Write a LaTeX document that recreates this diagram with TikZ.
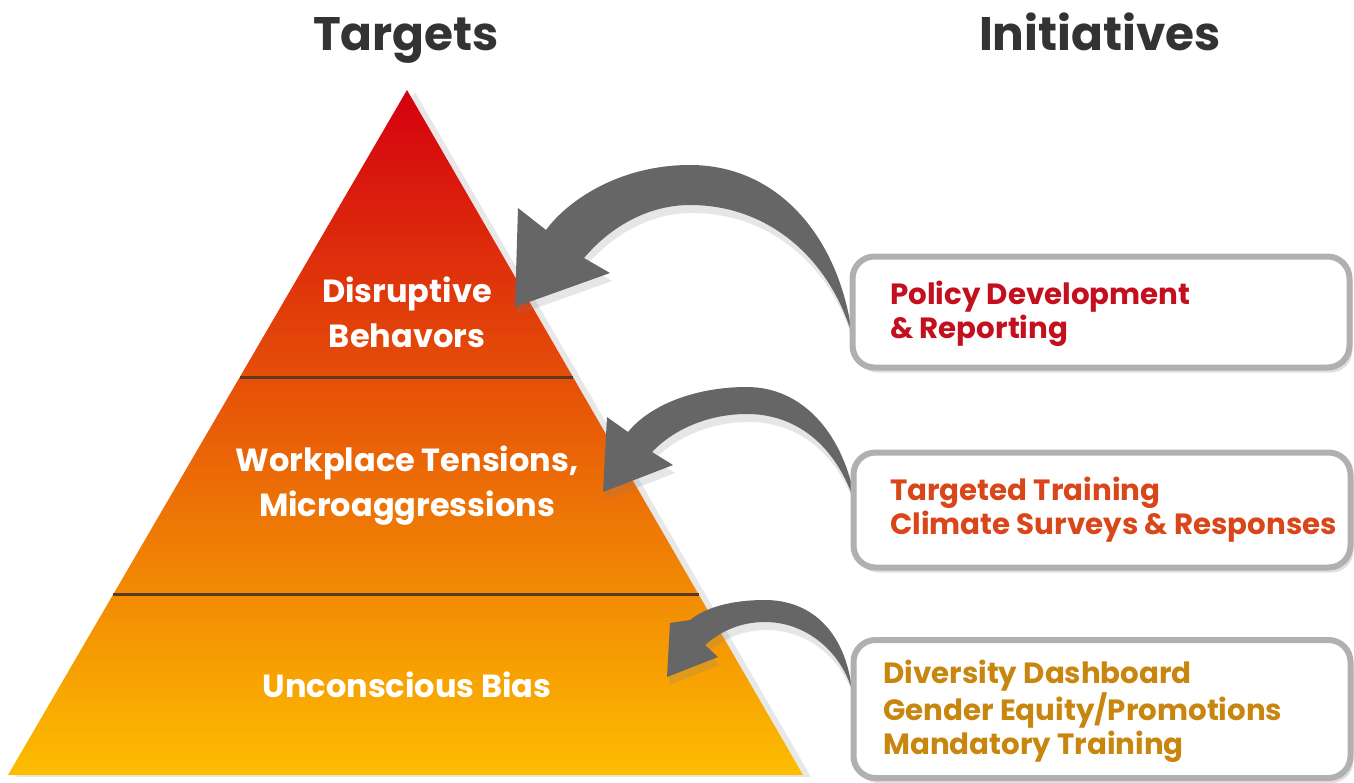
\documentclass[tikz,border=0pt]{standalone}
\usepackage{fontspec}
\setmainfont{Poppins}
\usepackage{xcolor}
\usetikzlibrary{calc, shadows}
\definecolor{titlegray}{HTML}{333333}
\definecolor{pyrred}{HTML}{D4000F}
\definecolor{pyrorange}{HTML}{E9560A}
\definecolor{pyryellow}{HTML}{FDBD00}
\definecolor{divbrown}{HTML}{5B3A1E}
\definecolor{boxgray}{HTML}{B0B0B0}
\definecolor{arrowgray}{HTML}{666666}
\definecolor{policyred}{HTML}{C30F1E}
\definecolor{trainorange}{HTML}{D9461A}
\definecolor{dashgold}{HTML}{C8860E}

\begin{document}
\begin{tikzpicture}[x=1pt,y=-1pt]
    \tikzstyle{heading}=[text=titlegray, anchor=base, font=\fontsize{47}{52}\selectfont\bfseries]
    \tikzstyle{level}=[text=white, align=center, font=\fontsize{32}{45}\selectfont\bfseries]
    \tikzstyle{initbox}=[shape=rectangle, draw=boxgray, line width=6pt, fill=white,
        rounded corners=22pt, minimum width=497pt,
        drop shadow={opacity=0.25, shadow xshift=3pt, shadow yshift=-5pt}]
    \tikzstyle{inittext}=[anchor=west, align=left, inner sep=0pt, font=\fontsize{29.3}{34}\selectfont\bfseries]
    \tikzstyle{curvearrow}=[fill=arrowgray, drop shadow={opacity=0.2, shadow xshift=2pt, shadow yshift=-8pt}]
    \tikzstyle{divider}=[divbrown, line width=3pt]

    \useasboundingbox (0,0) rectangle (1354,782);

    % headings
    \node[heading] (targets) at (406,50) {Targets};
    \node[heading] (initiatives) at (1100,50) {Initiatives};

    % pyramid
    \coordinate (apex) at (407,90);
    \coordinate (baseL) at (8,775);
    \coordinate (baseR) at (803,775);
    \shade[top color=pyrred, middle color=pyrorange, bottom color=pyryellow,
        drop shadow={opacity=0.18, shadow xshift=8pt, shadow yshift=-2pt}]
        (apex) -- (baseR) -- (baseL) -- cycle;
    \draw[divider] ($(apex)!0.419!(baseL)$) -- ($(apex)!0.419!(baseR)$);
    \draw[divider] ($(apex)!0.737!(baseL)$) -- ($(apex)!0.737!(baseR)$);

    \node[level] (disruptive) at (407,312) {Disruptive\\Behavors};
    \node[level] (tensions) at (407,486) {Workplace Tensions,\\Microaggressions};
    \node[level] (bias) at (407,685) {Unconscious Bias};

    % curved arrows
    \coordinate (tail1) at (852,335);
    \coordinate (tip1) at (515,307);
    \fill[curvearrow] (tail1) .. controls (840,240) and (780,165) .. (690,165)
        .. controls (620,165) and (568,200) .. (546,230) -- (518,208) -- (tip1)
        -- (610,273) -- (584,258) .. controls (612,225) and (650,205) .. (690,205)
        .. controls (770,205) and (830,260) .. (tail1) -- cycle;

    \coordinate (tail2) at (857,510);
    \coordinate (tip2) at (603,492);
    \fill[curvearrow] (tail2) .. controls (845,430) and (800,387) .. (747,387)
        .. controls (695,387) and (650,405) .. (628,432) -- (607,417) -- (tip2)
        -- (673,465) -- (652,452) .. controls (675,428) and (710,414) .. (747,414)
        .. controls (800,414) and (840,450) .. (tail2) -- cycle;

    \coordinate (tail3) at (852,690);
    \coordinate (tip3) at (667,677);
    \fill[curvearrow] (tail3) .. controls (845,630) and (810,600) .. (765,600)
        .. controls (730,600) and (705,608) .. (690,620) -- (670,623) -- (tip3)
        -- (718,657) -- (705,645) .. controls (722,630) and (742,622) .. (765,622)
        .. controls (805,622) and (840,650) .. (tail3) -- cycle;

    % initiative boxes
    \node[initbox, minimum height=111pt] (policy) at (1101,312) {};
    \node[initbox, minimum height=115pt] (training) at (1102,510) {};
    \node[initbox, minimum height=138pt] (diversity) at (1102,709) {};

    \node[inittext, text=policyred] (policytext) at (890,314) {Policy Development\\\& Reporting};
    \node[inittext, text=trainorange] (trainingtext) at (890,510) {Targeted Training\\Climate Surveys \& Responses};
    \node[inittext, text=dashgold] (diversitytext) at (883,711) {Diversity Dashboard\\Gender Equity/Promotions\\Mandatory Training};

\end{tikzpicture}
\end{document}
